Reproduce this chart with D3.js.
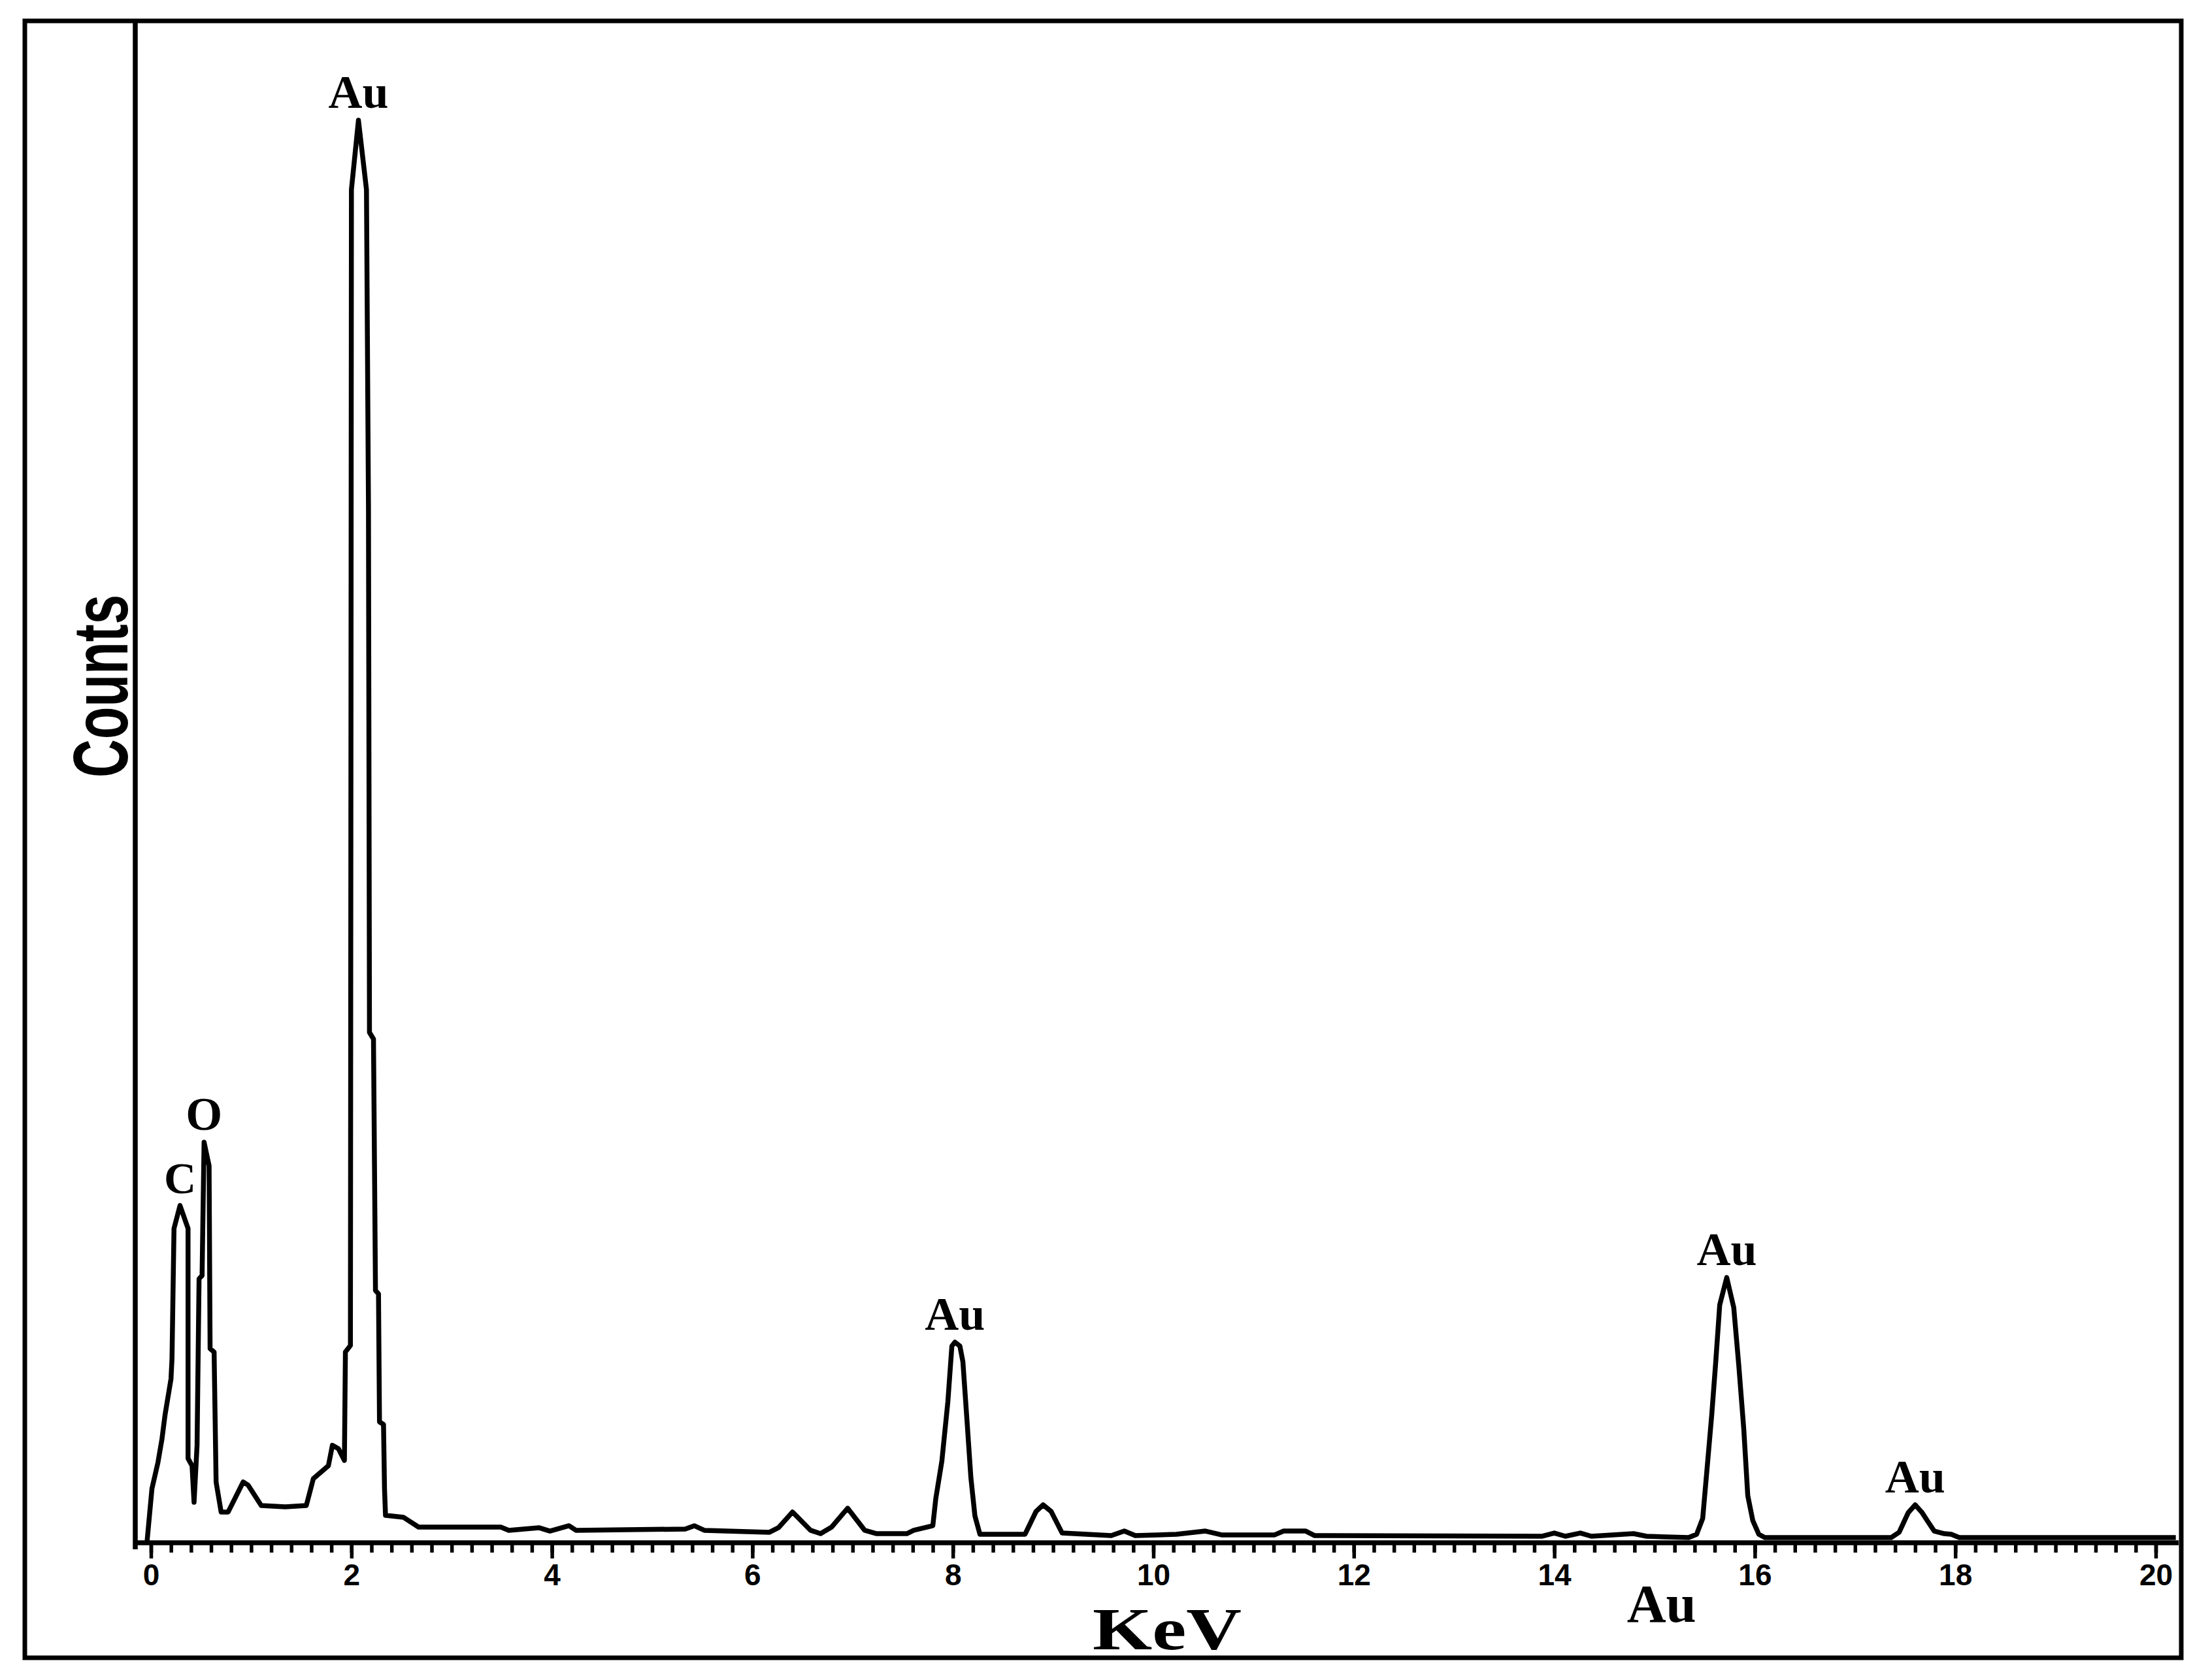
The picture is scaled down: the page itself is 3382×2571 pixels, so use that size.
<!DOCTYPE html>
<meta charset="utf-8">
<style>
body {
  margin: 0;
  background: #fff;
}
.frame {
  fill: none;
  stroke: #000;
  stroke-width: 7px;
}
.spectrum {
  fill: none;
  stroke: #000;
  stroke-width: 7.5px;
  stroke-linejoin: round;
}
.axis-line {
  stroke: #000;
  stroke-width: 7.5px;
}
.tick line {
  stroke: #000;
  stroke-width: 5.5px;
}
.tick text {
  font-family: "Liberation Sans", Arial, sans-serif;
  font-weight: bold;
  font-size: 46px;
  fill: #000;
}
.peak-label {
  font-family: "Liberation Serif", "Times New Roman", serif;
  font-weight: bold;
  font-size: 72px;
  text-anchor: middle;
}
</style>
<body>
<script src="https://d3js.org/d3.v7.min.js"></script>
<script>

var width = 3382,
    height = 2571;

// EDS spectrum (energy in keV, counts in arbitrary units)
var energy = [
  -0.04, 0.01, 0.07, 0.11, 0.14, 0.20, 0.21, 0.23, 0.29, 0.37, 0.37, 0.41, 0.43, 0.46, 0.48, 0.51,
  0.53, 0.58, 0.59, 0.63, 0.65, 0.70, 0.77, 0.92, 0.97, 1.10, 1.34, 1.55, 1.62, 1.77, 1.81, 1.87,
  1.93, 1.94, 1.99, 2.00, 2.07, 2.15, 2.17, 2.18, 2.22, 2.24, 2.27, 2.28, 2.32, 2.33, 2.34, 2.52,
  2.67, 3.49, 3.57, 3.87, 3.98, 4.17, 4.24, 5.33, 5.42, 5.52, 6.17, 6.26, 6.40, 6.58, 6.68, 6.79,
  6.95, 7.12, 7.24, 7.54, 7.61, 7.80, 7.83, 7.89, 7.95, 7.99, 8.02, 8.07, 8.10, 8.14, 8.18, 8.22,
  8.27, 8.72, 8.83, 8.90, 8.98, 9.09, 9.58, 9.71, 9.82, 10.23, 10.52, 10.68, 11.21, 11.30, 11.52, 11.61,
  13.88, 14.00, 14.11, 14.26, 14.37, 14.79, 14.92, 15.34, 15.42, 15.48, 15.52, 15.57, 15.61, 15.65, 15.72, 15.79,
  15.84, 15.89, 15.93, 15.98, 16.04, 16.10, 17.36, 17.44, 17.53, 17.60, 17.67, 17.72, 17.79, 17.89, 17.96, 18.04,
  20.20
];

var counts = [
  0, 35.6, 52.8, 68.2, 83.7, 107.7, 121.0, 206.4, 221.5, 206.4, 55.4, 50.6, 26.6, 64.0, 173.4, 175.5,
  263.1, 247.6, 127.5, 125.3, 39.9, 20.2, 20.2, 39.9, 37.8, 24.5, 23.6, 24.5, 42.1, 50.6, 64.0, 61.8,
  54.1, 125.3, 129.6, 888.8, 934.3, 888.8, 679.8, 335.2, 330.9, 165.7, 163.5, 79.4, 77.7, 35.6, 18.0, 16.7,
  10.3, 10.3, 8.2, 9.9, 7.7, 11.2, 8.2, 9.0, 11.2, 8.2, 6.9, 9.9, 20.2, 8.2, 6.0, 10.3,
  22.7, 8.2, 6.0, 6.0, 8.2, 11.2, 29.2, 53.6, 92.7, 129.2, 131.8, 129.2, 118.9, 81.1, 42.5, 17.6,
  5.6, 5.6, 20.6, 24.9, 20.6, 6.4, 4.7, 7.7, 4.7, 5.6, 7.7, 5.2, 5.2, 7.7, 7.7, 4.7,
  4.3, 6.4, 4.3, 6.4, 4.3, 6.0, 4.3, 3.4, 5.6, 15.9, 45.9, 83.7, 118.5, 156.2, 174.2, 154.5,
  116.7, 74.7, 30.9, 14.6, 5.6, 3.4, 3.4, 6.9, 19.7, 24.9, 19.7, 14.6, 7.7, 6.0, 5.6, 3.4,
  3.4
];

// peak labels
var peakNames = ["C", "O", "Au", "Au", "Au", "Au"];
var peakEnergy = [0.29, 0.53, 2.07, 8.02, 15.72, 17.60];
var peakCounts = [221.5, 263.1, 934.3, 131.8, 174.2, 24.9];

// stray label under the axis
var axisNoteName = "Au";
var axisNoteEnergy = 15.07;

// tick labels
var xTicks = [0, 2, 4, 6, 8, 10, 12, 14, 16, 18, 20];
var xMinorTicks = d3.range(0, 101).map(function(i) { return i / 5; });

var xLabel = "KeV",
    yLabel = "Counts";

var x = d3.scaleLinear()
    .domain([0, 20])
    .range([231, 3299]);

var y = d3.scaleLinear()
    .domain([0, 1000])
    .range([2361, 31]);

var svg = d3.select("body").append("svg")
    .attr("width", width)
    .attr("height", height);

svg.append("rect")
    .attr("width", width)
    .attr("height", height)
    .attr("fill", "#fff");

// outer box
svg.append("rect")
    .attr("class", "frame")
    .attr("x", 38)
    .attr("y", 32)
    .attr("width", 3300)
    .attr("height", 2505);

// minor ticks
svg.append("g")
    .attr("transform", "translate(0," + y(0) + ")")
    .call(d3.axisBottom(x).tickValues(xMinorTicks).tickSize(15).tickFormat(""))
    .call(function(g) { g.select(".domain").remove(); });

// major ticks + labels
svg.append("g")
    .attr("transform", "translate(0," + y(0) + ")")
    .call(d3.axisBottom(x).tickValues(xTicks).tickSize(24).tickPadding(8).tickFormat(d3.format("d")))
    .call(function(g) { g.select(".domain").remove(); });

// axis lines
svg.append("line")
    .attr("class", "axis-line")
    .attr("x1", 207).attr("x2", 207)
    .attr("y1", 32).attr("y2", y(0) + 10);

svg.append("line")
    .attr("class", "axis-line")
    .attr("x1", 204).attr("x2", 3334)
    .attr("y1", y(0)).attr("y2", y(0));

// spectrum
var line = d3.line()
    .x(function(d, i) { return x(energy[i]); })
    .y(function(d, i) { return y(counts[i]); });

svg.append("path")
    .datum(energy)
    .attr("class", "spectrum")
    .attr("d", line);

// peak labels
svg.selectAll(".peak-label")
    .data(peakNames)
  .enter().append("text")
    .attr("class", "peak-label")
    .attr("x", function(d, i) { return x(peakEnergy[i]); })
    .attr("y", function(d, i) { return y(peakCounts[i]) - 19; })
    .style("font-size", function(d) { return d === "C" ? "68px" : "72px"; })
    .text(function(d) { return d; });

svg.append("text")
    .attr("class", "peak-label")
    .attr("x", x(axisNoteEnergy))
    .attr("y", y(0) + 121)
    .style("font-size", "83px")
    .text(axisNoteName);

// axis titles
svg.append("text")
    .attr("x", 1786)
    .attr("y", 2524)
    .attr("text-anchor", "middle")
    .attr("textLength", 228)
    .attr("lengthAdjust", "spacingAndGlyphs")
    .style("font-family", "'Liberation Serif', 'Times New Roman', serif")
    .style("font-weight", "bold")
    .style("font-size", "92px")
    .text(xLabel);

svg.append("text")
    .attr("transform", "translate(195,1050) rotate(-90)")
    .attr("text-anchor", "middle")
    .attr("textLength", 280)
    .attr("lengthAdjust", "spacingAndGlyphs")
    .style("font-family", "'Liberation Sans Narrow', 'Arial Narrow', 'Liberation Sans', sans-serif")
    .style("font-weight", "bold")
    .style("font-size", "118px")
    .text(yLabel);

</script>
